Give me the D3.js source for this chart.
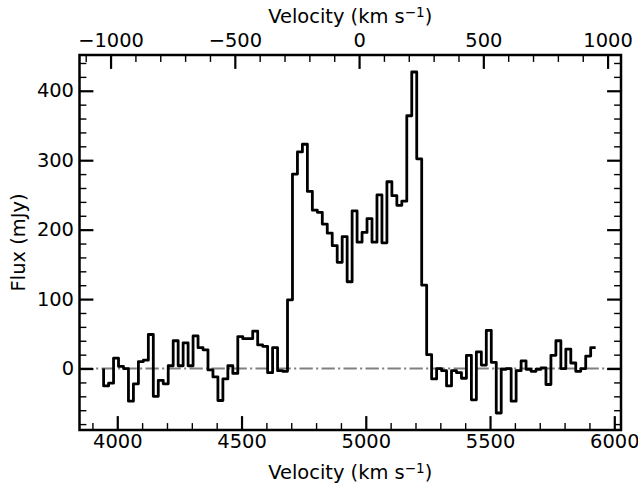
<!DOCTYPE html>
<html><head><meta charset="utf-8">
<script src="https://cdn.jsdelivr.net/npm/d3@7"></script>
<style>body{margin:0;background:#fff} svg text{font-family:"DejaVu Sans",sans-serif}</style>
</head><body><svg id="c" width="638" height="487"></svg>
<script>
// Channel velocities (km/s) and flux densities (mJy)
const velocity = [3945,3965,3985,4005,4025,4045,4065,4085,4105,4125,
  4145,4165,4185,4205,4225,4245,4265,4285,4305,4325,
  4345,4365,4385,4405,4425,4445,4465,4485,4505,4525,
  4545,4565,4585,4605,4625,4645,4665,4685,4705,4725,
  4745,4765,4785,4805,4825,4845,4865,4885,4905,4925,
  4945,4965,4985,5005,5025,5045,5065,5085,5105,5125,
  5145,5165,5185,5205,5225,5245,5265,5285,5305,5325,
  5345,5365,5385,5405,5425,5445,5465,5485,5505,5525,
  5545,5565,5585,5605,5625,5645,5665,5685,5705,5725,
  5745,5765,5785,5805,5825,5845,5865,5885,5905,5925];
const flux = [0,-25,-21,15,3,0,-47,-22,10,12,
  49,-40,-17,-22,4,40,4,37,4,47,
  30,27,-2,-12,-46,-15,4,-7,46,43,
  43,54,34,32,-6,30,-3,-4,99,280,
  312,323,255,228,225,208,195,177,153,190,
  125,227,182,196,216,182,250,181,269,249,
  235,241,364,427,302,120,20,-15,0,-3,
  -25,-3,-6,-14,19,-45,24,5,55,9,
  -64,-1,0,-47,-3,11,-1,-4,-1,1,
  -23,19,40,0,28,8,-4,0,18,30];
const bottomTicks = [4000,4500,5000,5500,6000];
const topTicks = [-1000,-500,0,500,1000];
const fluxTicks = [0,100,200,300,400];
const vSys = 4973;

const L=79.5, R=621, T=55, B=430;
const xDom=[3848,6027];
const x = d3.scaleLinear().domain(xDom).range([L,R]);
const y = d3.scaleLinear().domain([-88.5,451.5]).range([B,T]);
const vel = d3.scaleLinear().domain([xDom[0]-vSys, xDom[1]-vSys]).range([L,R]);

const svg = d3.select('#c');
const FS = 19.44;
const fmt = d => d < 0 ? '\u2212' + Math.abs(d) : String(d);

svg.append('clipPath').attr('id','clip').append('rect')
  .attr('x',L).attr('y',T).attr('width',R-L).attr('height',B-T);

// zero line
svg.append('line').attr('x1',L).attr('x2',R).attr('y1',y(0)).attr('y2',y(0))
  .attr('stroke','#808080').attr('stroke-width',2.08)
  .attr('stroke-dasharray','13.3,3.3,2.1,3.3');

// spectrum
const pts = velocity.map((v,i)=>[v,flux[i]]);
svg.append('path').attr('clip-path','url(#clip)')
  .attr('d', d3.line().x(d=>x(d[0])).y(d=>y(d[1])).curve(d3.curveStepBefore)(pts))
  .attr('fill','none').attr('stroke','#000').attr('stroke-width',2.8)
  .attr('stroke-linejoin','round');

function minorVals(lo,hi,step,majors){
  return d3.range(Math.ceil(lo/step)*step, hi+1e-9, step).filter(v=>!majors.includes(v));
}
function styleAxis(g, w){
  g.select('.domain').remove();
  g.attr('font-size',FS).attr('font-family','DejaVu Sans').attr('color','#000');
  g.selectAll('.tick line').attr('stroke-width',w);
}

// bottom
svg.append('g').attr('transform',`translate(0,${B})`)
  .call(d3.axisBottom(x).tickValues(minorVals(xDom[0],xDom[1],100,bottomTicks)).tickSize(-6.9).tickFormat(''))
  .call(g=>styleAxis(g,1.4));
svg.append('g').attr('transform',`translate(0,${B})`)
  .call(d3.axisBottom(x).tickValues(bottomTicks).tickSize(-13.9).tickPadding(4.3).tickFormat(fmt))
  .call(g=>styleAxis(g,2.2));
// top
const vd = vel.domain();
svg.append('g').attr('transform',`translate(0,${T})`)
  .call(d3.axisTop(vel).tickValues(minorVals(vd[0],vd[1],100,topTicks)).tickSize(-6.9).tickFormat(''))
  .call(g=>styleAxis(g,1.4));
svg.append('g').attr('transform',`translate(0,${T})`)
  .call(d3.axisTop(vel).tickValues(topTicks).tickSize(-13.9).tickPadding(8).tickFormat(fmt))
  .call(g=>styleAxis(g,2.2));
// left
const yd = y.domain();
svg.append('g').attr('transform',`translate(${L},0)`)
  .call(d3.axisLeft(y).tickValues(minorVals(yd[0],yd[1],20,fluxTicks)).tickSize(-6.9).tickFormat(''))
  .call(g=>styleAxis(g,1.4));
svg.append('g').attr('transform',`translate(${L},0)`)
  .call(d3.axisLeft(y).tickValues(fluxTicks).tickSize(-13.9).tickPadding(5.5).tickFormat(fmt))
  .call(g=>styleAxis(g,2.2));
// right
svg.append('g').attr('transform',`translate(${R},0)`)
  .call(d3.axisRight(y).tickValues(minorVals(yd[0],yd[1],20,fluxTicks)).tickSize(-6.9).tickFormat(''))
  .call(g=>styleAxis(g,1.4));
svg.append('g').attr('transform',`translate(${R},0)`)
  .call(d3.axisRight(y).tickValues(fluxTicks).tickSize(-13.9).tickFormat(''))
  .call(g=>styleAxis(g,2.2));

// frame
svg.append('rect').attr('x',L).attr('y',T).attr('width',R-L).attr('height',B-T)
  .attr('fill','none').attr('stroke','#000').attr('stroke-width',2.5);

function velLabel(yy){
  const t = svg.append('text').attr('x',(L+R)/2).attr('y',yy).attr('text-anchor','middle')
    .attr('font-size',FS).attr('fill','#000');
  t.append('tspan').text('Velocity (km s');
  t.append('tspan').attr('font-size',13.6).attr('dy',-6.5).text('\u22121');
  t.append('tspan').attr('dy',6.5).text(')');
}
velLabel(479);
velLabel(23);

svg.append('text').attr('transform',`translate(25,${(T+B)/2}) rotate(-90)`)
  .attr('text-anchor','middle').attr('font-size',FS).attr('fill','#000').text('Flux (mJy)');
</script></body></html>
